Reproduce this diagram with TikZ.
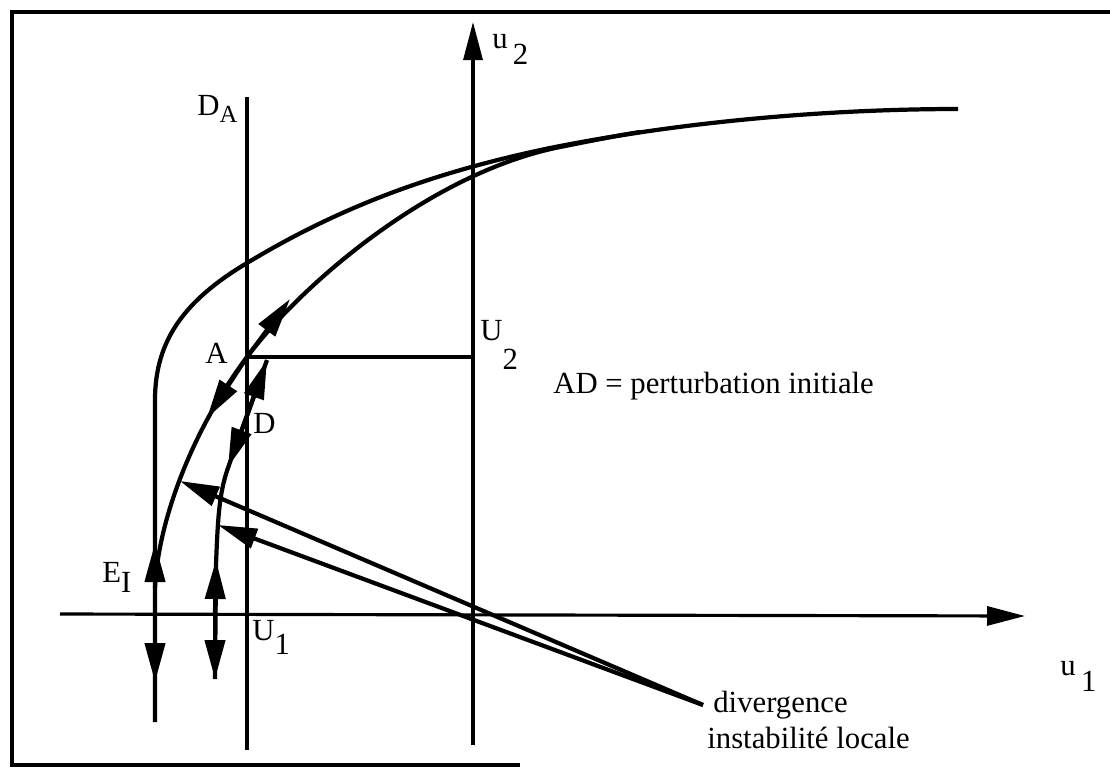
\documentclass[tikz,border=0pt]{standalone}
\usepackage{fontspec}
\setmainfont{Liberation Serif}
\usetikzlibrary{arrows.meta}
\newcommand{\lsub}[2]{\raisebox{-#1}{#2}}

\begin{document}
\begin{tikzpicture}[x=0.02cm, y=-0.02cm,
    frame/.style={line width=2.2pt},
    axis/.style={line width=1.8pt},
    traj/.style={line width=2.4pt},
    flow/.style={line width=2.4pt, -{Triangle[length=0.78cm, width=0.4cm]}},
    lbl/.style={anchor=base west, inner sep=0pt, font=\fontsize{17.5}{20}\selectfont}
  ]
  \useasboundingbox (0,0) rectangle (1110,769);
  \draw[frame] (1110,12) -- (12,12) -- (12,765) -- (520,765);

  % axes and construction lines
  \coordinate (u1tail) at (60,614);
  \coordinate (u1tip) at (1025,616);
  \coordinate (u2tail) at (473,745);
  \coordinate (u2tip) at (473,22);
  \coordinate (DAtop) at (247,97);
  \coordinate (DAbot) at (247,750);
  \coordinate (A) at (247,357);
  \coordinate (U2) at (473,357);
  \coordinate (D) at (247,416);
  \draw[axis, -{Triangle[length=0.76cm, width=0.38cm]}] (u1tail) -- (u1tip);
  \draw[axis, -{Triangle[length=0.76cm, width=0.38cm]}] (u2tail) -- (u2tip);
  \draw[axis] (DAtop) -- (DAbot);
  \draw[axis] (A) -- (U2);

  % trajectories
  \draw[traj] (155,722) -- (155,400) .. controls (155,340) and (185,300) .. (247,263)
    .. controls (330,213) and (420,175) .. (550,148)
    .. controls (700,118) and (850,109) .. (958,109);
  \draw[traj] (155,588) .. controls (158,520) and (193,429) .. (A)
    .. controls (301,285) and (430,173) .. (560,147)
    .. controls (590,141) and (615,136) .. (640,132);
  \coordinate (Dup) at (267,360);
  \coordinate (Ddown) at (228,467);
  \draw[traj] (215,679) -- (216,565) .. controls (218,510) and (220,490) .. (229,465) -- (Dup);

  % arrows on the trajectories
  \coordinate (Aup) at (290,299);
  \coordinate (Adown) at (207,418);
  \draw[flow] (A) -- (Aup);
  \draw[flow] (A) -- (Adown);
  \draw[flow] (D) -- (Dup);
  \draw[flow] (D) -- (Ddown);

  \coordinate (EI) at (155,613);
  \coordinate (EIup) at (155,543);
  \coordinate (EIdown) at (155,682);
  \coordinate (Dv) at (215,613);
  \coordinate (Dvup) at (216,560);
  \coordinate (Dvdown) at (215,679);
  \draw[flow] (EI) -- (EIup);
  \draw[flow] (EI) -- (EIdown);
  \draw[flow] (Dv) -- (Dvup);
  \draw[flow] (Dv) -- (Dvdown);

  % divergence
  \coordinate (div) at (703,705);
  \coordinate (hitE) at (180,481);
  \coordinate (hitD) at (218,525);
  \draw[flow] (div) -- (hitE);
  \draw[flow] (div) -- (hitD);

  % labels
  \node[lbl] (lDA) at (197,115) {D\lsub{4pt}{\fontsize{14}{16}\selectfont A}};
  \node[lbl] (lu2) at (492,48) {u\hspace{3pt}\lsub{9.5pt}{2}};
  \node[lbl] (lU2) at (480,340) {U\lsub{17pt}{2}};
  \node[lbl] (lA) at (205,363) {A};
  \node[lbl] (lD) at (253,433) {D};
  \node[lbl] (lEI) at (102,582) {E\lsub{6pt}{I}};
  \node[lbl] (lU1) at (252,640) {U\lsub{8.5pt}{1}};
  \node[lbl] (lu1) at (1060,675) {u\hspace{3pt}\lsub{9.5pt}{1}};
  \node[lbl] (lAD) at (553,393) {AD = perturbation initiale};
  \node[lbl] (ldiv) at (713,712) {divergence};
  \node[lbl] (linst) at (707,748) {instabilité locale};
\end{tikzpicture}
\end{document}
